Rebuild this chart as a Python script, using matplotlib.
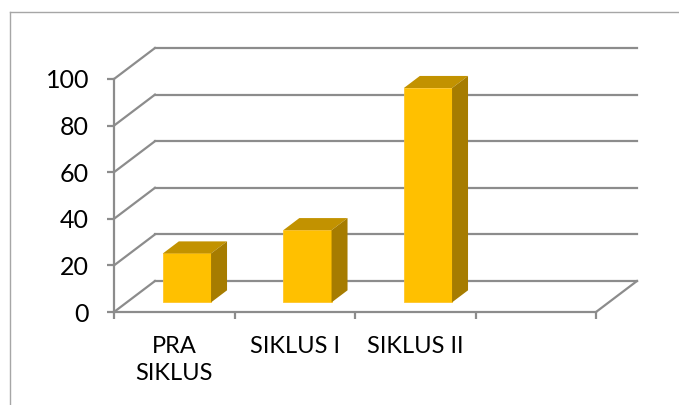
import matplotlib.pyplot as plt
from matplotlib.lines import Line2D

categories = ['PRA\nSIKLUS', 'SIKLUS I', 'SIKLUS II']
values = [21, 31, 92]
y_ticks = [0, 20, 40, 60, 80, 100]
n_slots = 4  # excel leaves one empty slot on the right

# fake 3D look (oblique offset in data units)
DX, DY = 0.34, 13.3
F0, F1 = 0.31, 0.70  # bar depth inside the floor
HALF_W = 0.2
GRID = '#8c8c8c'

plt.rcParams['font.family'] = ['Lato', 'DejaVu Sans']

fig = plt.figure(figsize=(6.79, 4.05), dpi=100)
ax = fig.add_axes([114 / 679, 93 / 405, 482 / 679, 233 / 405])
ax.set_xlim(0, n_slots)
ax.set_ylim(0, 100)
ax.patch.set_visible(False)

# back wall gridlines and left wall diagonals
for v in y_ticks:
    ax.plot([DX, n_slots + DX], [v + DY, v + DY], color=GRID, lw=1.6, clip_on=False, zorder=1)
    ax.plot([0, DX], [v, v + DY], color=GRID, lw=1.6, clip_on=False, zorder=1)
ax.plot([n_slots, n_slots + DX], [0, DY], color=GRID, lw=1.6, clip_on=False, zorder=1)

# bars: front face, top face, side face
xs = [i + 0.5 for i in range(len(values))]
ax.bar([x + F0 * DX for x in xs], values, width=2 * HALF_W, bottom=F0 * DY,
       color='#FFC000', edgecolor='#FFC52A', lw=0.6, zorder=3)
for x, v in zip(xs, values):
    l, r = x - HALF_W, x + HALF_W
    ax.fill([l + F0 * DX, r + F0 * DX, r + F1 * DX, l + F1 * DX],
            [v + F0 * DY, v + F0 * DY, v + F1 * DY, v + F1 * DY],
            color='#C29200', lw=0, zorder=3, clip_on=False)
    ax.fill([r + F0 * DX, r + F1 * DX, r + F1 * DX, r + F0 * DX],
            [F0 * DY, F1 * DY, v + F1 * DY, v + F0 * DY],
            color='#A67C00', lw=0, zorder=3, clip_on=False)

for s in ['top', 'right']:
    ax.spines[s].set_visible(False)
for s in ['left', 'bottom']:
    ax.spines[s].set_color(GRID)
    ax.spines[s].set_linewidth(1.6)
    ax.spines[s].set_zorder(2)

ax.set_yticks(y_ticks)
ax.tick_params(axis='y', direction='out', length=5, width=1.6, color=GRID,
               labelsize=18, pad=13, labelcolor='black')
ax.set_xticks(range(n_slots + 1))
ax.set_xticklabels([])
ax.set_xticks(xs, minor=True)
ax.set_xticklabels(categories, minor=True, linespacing=1.4)
ax.tick_params(axis='x', which='major', direction='out', length=5, width=1.6, color=GRID)
ax.tick_params(axis='x', which='minor', length=0, labelsize=17, pad=17, labelcolor='black')

# chart area border (cut off at the right and bottom)
fig.add_artist(Line2D([10 / 679, 10 / 679], [0, 1 - 12 / 405], color='#a6a6a6', lw=1))
fig.add_artist(Line2D([10 / 679, 1], [1 - 12 / 405, 1 - 12 / 405], color='#a6a6a6', lw=1))

fig.savefig('out.png', dpi=100)
